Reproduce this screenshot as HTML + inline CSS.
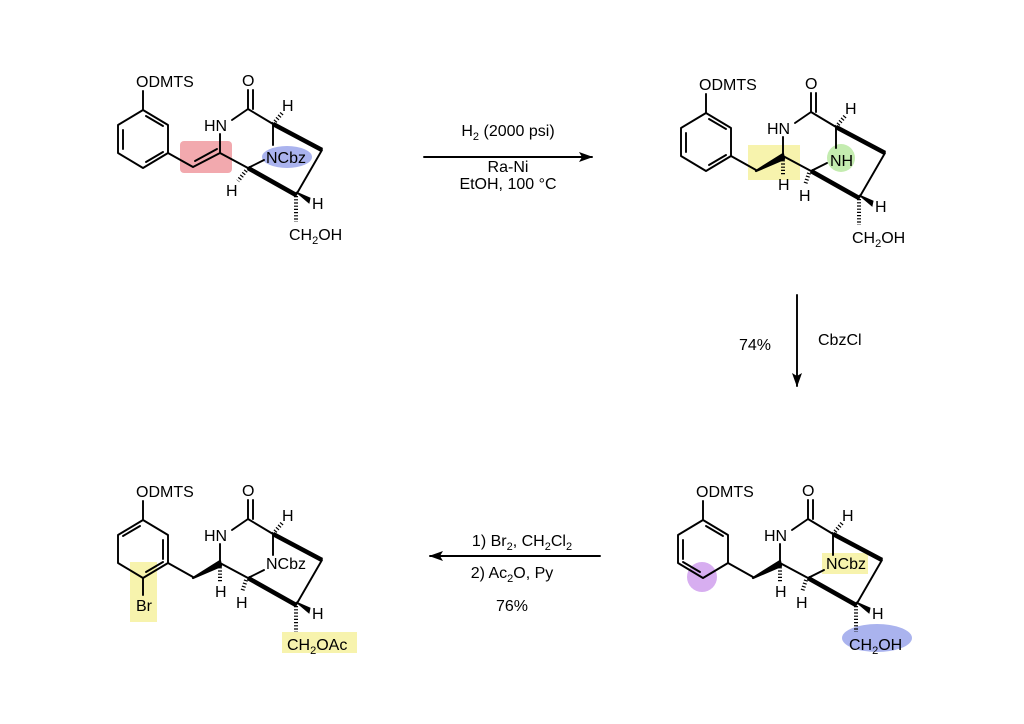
<!DOCTYPE html>
<html><head><meta charset="utf-8"><style>
html,body{margin:0;padding:0;background:#fff;}
svg{display:block;}
text{font-family:"Liberation Sans",Arial,sans-serif;font-size:16px;fill:#000;}
.b{stroke:#000;stroke-width:1.9;fill:none;stroke-linecap:round;stroke-linejoin:round;}
.w{stroke:#000;stroke-width:4.5;fill:none;stroke-linecap:butt;}
.hh{stroke:#000;stroke-width:4;fill:none;stroke-dasharray:1.2 2;}
</style></head><body>
<svg width="1024" height="724" viewBox="0 0 1024 724" xmlns="http://www.w3.org/2000/svg">
<defs>
<marker id="ar" markerWidth="14" markerHeight="10" refX="13" refY="5" orient="auto" markerUnits="userSpaceOnUse">
<path d="M0,0 L14,5 L0,10 L3,5 Z" fill="#000"/></marker>
</defs>

<!-- Molecule 1 -->
<g>
<rect x="180" y="141" width="52" height="32" rx="4" fill="#f2a9ae"/>
<ellipse cx="287" cy="157" rx="25" ry="11" fill="#aab3ee"/>
<text x="136" y="87">ODMTS</text>
<path class="b" d="M143,91 L143,110"/>
<path class="b" d="M143,110 L168,125 L168,153 L143,168 L118,153 L118,125 Z"/>
<path class="b" d="M146,116 L163,126 M146,162 L163,152 M123,130 L123,149"/>
<path class="b" d="M168,153 L193,167 L220,153 L220,134"/>
<path class="b" d="M195,161 L217,149"/>
<text x="204" y="131">HN</text>
<path class="b" d="M232,120 L248,109 L248,90 M253,109 L253,90 M248,109 L273,124 L273,145"/>
<text x="242" y="86">O</text>
<path class="hh" d="M273,124 L283,112"/>
<text x="282" y="111">H</text>
<text x="266" y="163">NCbz</text>
<path class="w" d="M273,124 L322,150"/>
<path class="b" d="M322,150 L296,195"/>
<path class="b" d="M220,153 L248,168 L264,160"/>
<path class="w" d="M248,168 L296,195"/>
<path class="hh" d="M248,168 L238,181"/>
<text x="226" y="196">H</text>
<path d="M296,192 L310,198 L309,203 Z" fill="#000" stroke="#000" stroke-width="1"/>
<text x="312" y="209">H</text>
<path class="hh" d="M296,196 L296,222"/>
<text x="289" y="240">CH<tspan font-size="11" dy="4">2</tspan><tspan dy="-4">OH</tspan></text>
</g>

<!-- Arrow 1 -->
<line class="b" x1="424" y1="157" x2="592" y2="157" marker-end="url(#ar)"/>
<text x="508" y="136" text-anchor="middle">H<tspan font-size="11" dy="4">2</tspan><tspan dy="-4"> (2000 psi)</tspan></text>
<text x="508" y="172" text-anchor="middle">Ra-Ni</text>
<text x="508" y="189" text-anchor="middle">EtOH, 100 °C</text>

<!-- Molecule 2 -->
<g transform="translate(563,3)">
<rect x="185" y="142" width="52" height="35" fill="#f7f3ad"/>
<circle cx="278" cy="155" r="14" fill="#c4ecb0"/>
<text x="136" y="87">ODMTS</text>
<path class="b" d="M143,91 L143,110"/>
<path class="b" d="M143,110 L168,125 L168,153 L143,168 L118,153 L118,125 Z"/>
<path class="b" d="M146,116 L163,126 M146,162 L163,152 M123,130 L123,149"/>
<path class="b" d="M168,153 L193,167"/>
<path d="M193,168 L220,151 L221,156 Z" fill="#000" stroke="#000" stroke-width="2.2" stroke-linejoin="round"/>
<path class="b" d="M220,153 L220,134"/>
<path class="hh" d="M220,154 L220,172"/>
<text x="215" y="187">H</text>
<text x="204" y="131">HN</text>
<path class="b" d="M232,120 L248,109 L248,90 M253,109 L253,90 M248,109 L273,124 L273,145"/>
<text x="242" y="86">O</text>
<path class="hh" d="M273,124 L283,112"/>
<text x="282" y="111">H</text>
<text x="267" y="163">NH</text>
<path class="w" d="M273,124 L322,150"/>
<path class="b" d="M322,150 L296,195"/>
<path class="b" d="M220,153 L248,168 L264,160"/>
<path class="w" d="M248,168 L296,195"/>
<path class="hh" d="M246,170 L242,182"/>
<text x="236" y="198">H</text>
<path d="M296,192 L310,198 L309,203 Z" fill="#000" stroke="#000" stroke-width="1"/>
<text x="312" y="209">H</text>
<path class="hh" d="M296,196 L296,222"/>
<text x="289" y="240">CH<tspan font-size="11" dy="4">2</tspan><tspan dy="-4">OH</tspan></text>
</g>

<!-- Vertical arrow -->
<line class="b" x1="797" y1="295" x2="797" y2="386" marker-end="url(#ar)"/>
<text x="755" y="350" text-anchor="middle">74%</text>
<text x="818" y="345">CbzCl</text>

<!-- Molecule 4 -->
<g transform="translate(560,410)">
<circle cx="142" cy="167" r="15" fill="#d7aef0"/>
<rect x="262" y="143" width="46" height="21" fill="#f7f3ad"/>
<ellipse cx="317" cy="228" rx="35" ry="14" fill="#aab3ee"/>
<text x="136" y="87">ODMTS</text>
<path class="b" d="M143,91 L143,110"/>
<path class="b" d="M143,110 L168,125 L168,153 L143,168 L118,153 L118,125 Z"/>
<path class="b" d="M146,116 L163,126 M140,162 L123,152 M123,130 L123,149"/>
<path class="b" d="M168,153 L193,167"/>
<path d="M193,168 L220,151 L221,156 Z" fill="#000" stroke="#000" stroke-width="2.2" stroke-linejoin="round"/>
<path class="b" d="M220,153 L220,134"/>
<path class="hh" d="M220,154 L220,172"/>
<text x="215" y="187">H</text>
<text x="204" y="131">HN</text>
<path class="b" d="M232,120 L248,109 L248,90 M253,109 L253,90 M248,109 L273,124 L273,145"/>
<text x="242" y="86">O</text>
<path class="hh" d="M273,124 L283,112"/>
<text x="282" y="111">H</text>
<text x="266" y="159">NCbz</text>
<path class="w" d="M273,124 L322,150"/>
<path class="b" d="M322,150 L296,195"/>
<path class="b" d="M220,153 L248,168 L264,160"/>
<path class="w" d="M248,168 L296,195"/>
<path class="hh" d="M246,170 L242,182"/>
<text x="236" y="198">H</text>
<path d="M296,192 L310,198 L309,203 Z" fill="#000" stroke="#000" stroke-width="1"/>
<text x="312" y="209">H</text>
<path class="hh" d="M296,196 L296,222"/>
<text x="289" y="240">CH<tspan font-size="11" dy="4">2</tspan><tspan dy="-4">OH</tspan></text>
</g>

<!-- Arrow 2 -->
<line class="b" x1="600" y1="556" x2="430" y2="556" marker-end="url(#ar)"/>
<text x="522" y="546" text-anchor="middle">1) Br<tspan font-size="11" dy="4">2</tspan><tspan dy="-4">, CH</tspan><tspan font-size="11" dy="4">2</tspan><tspan dy="-4">Cl</tspan><tspan font-size="11" dy="4">2</tspan></text>
<text x="512" y="578" text-anchor="middle">2) Ac<tspan font-size="11" dy="4">2</tspan><tspan dy="-4">O, Py</tspan></text>
<text x="512" y="611" text-anchor="middle">76%</text>

<!-- Molecule 3 -->
<g transform="translate(0,410)">
<rect x="130" y="152" width="27" height="60" fill="#f7f3ad"/>
<rect x="282" y="222" width="75" height="21" fill="#f7f3ad"/>
<text x="136" y="87">ODMTS</text>
<path class="b" d="M143,91 L143,110"/>
<path class="b" d="M143,110 L168,125 L168,153 L143,168 L118,153 L118,125 Z"/>
<path class="b" d="M140,116 L123,126 M146,162 L163,152 M163,130 L163,149"/>
<path class="b" d="M143,168 L143,185"/>
<text x="136" y="201">Br</text>
<path class="b" d="M168,153 L193,167"/>
<path d="M193,168 L220,151 L221,156 Z" fill="#000" stroke="#000" stroke-width="2.2" stroke-linejoin="round"/>
<path class="b" d="M220,153 L220,134"/>
<path class="hh" d="M220,154 L220,172"/>
<text x="215" y="187">H</text>
<text x="204" y="131">HN</text>
<path class="b" d="M232,120 L248,109 L248,90 M253,109 L253,90 M248,109 L273,124 L273,145"/>
<text x="242" y="86">O</text>
<path class="hh" d="M273,124 L283,112"/>
<text x="282" y="111">H</text>
<text x="266" y="159">NCbz</text>
<path class="w" d="M273,124 L322,150"/>
<path class="b" d="M322,150 L296,195"/>
<path class="b" d="M220,153 L248,168 L264,160"/>
<path class="w" d="M248,168 L296,195"/>
<path class="hh" d="M246,170 L242,182"/>
<text x="236" y="198">H</text>
<path d="M296,192 L310,198 L309,203 Z" fill="#000" stroke="#000" stroke-width="1"/>
<text x="312" y="209">H</text>
<path class="hh" d="M296,196 L296,222"/>
<text x="287" y="240">CH<tspan font-size="11" dy="4">2</tspan><tspan dy="-4">OAc</tspan></text>
</g>
</svg>
</body></html>
